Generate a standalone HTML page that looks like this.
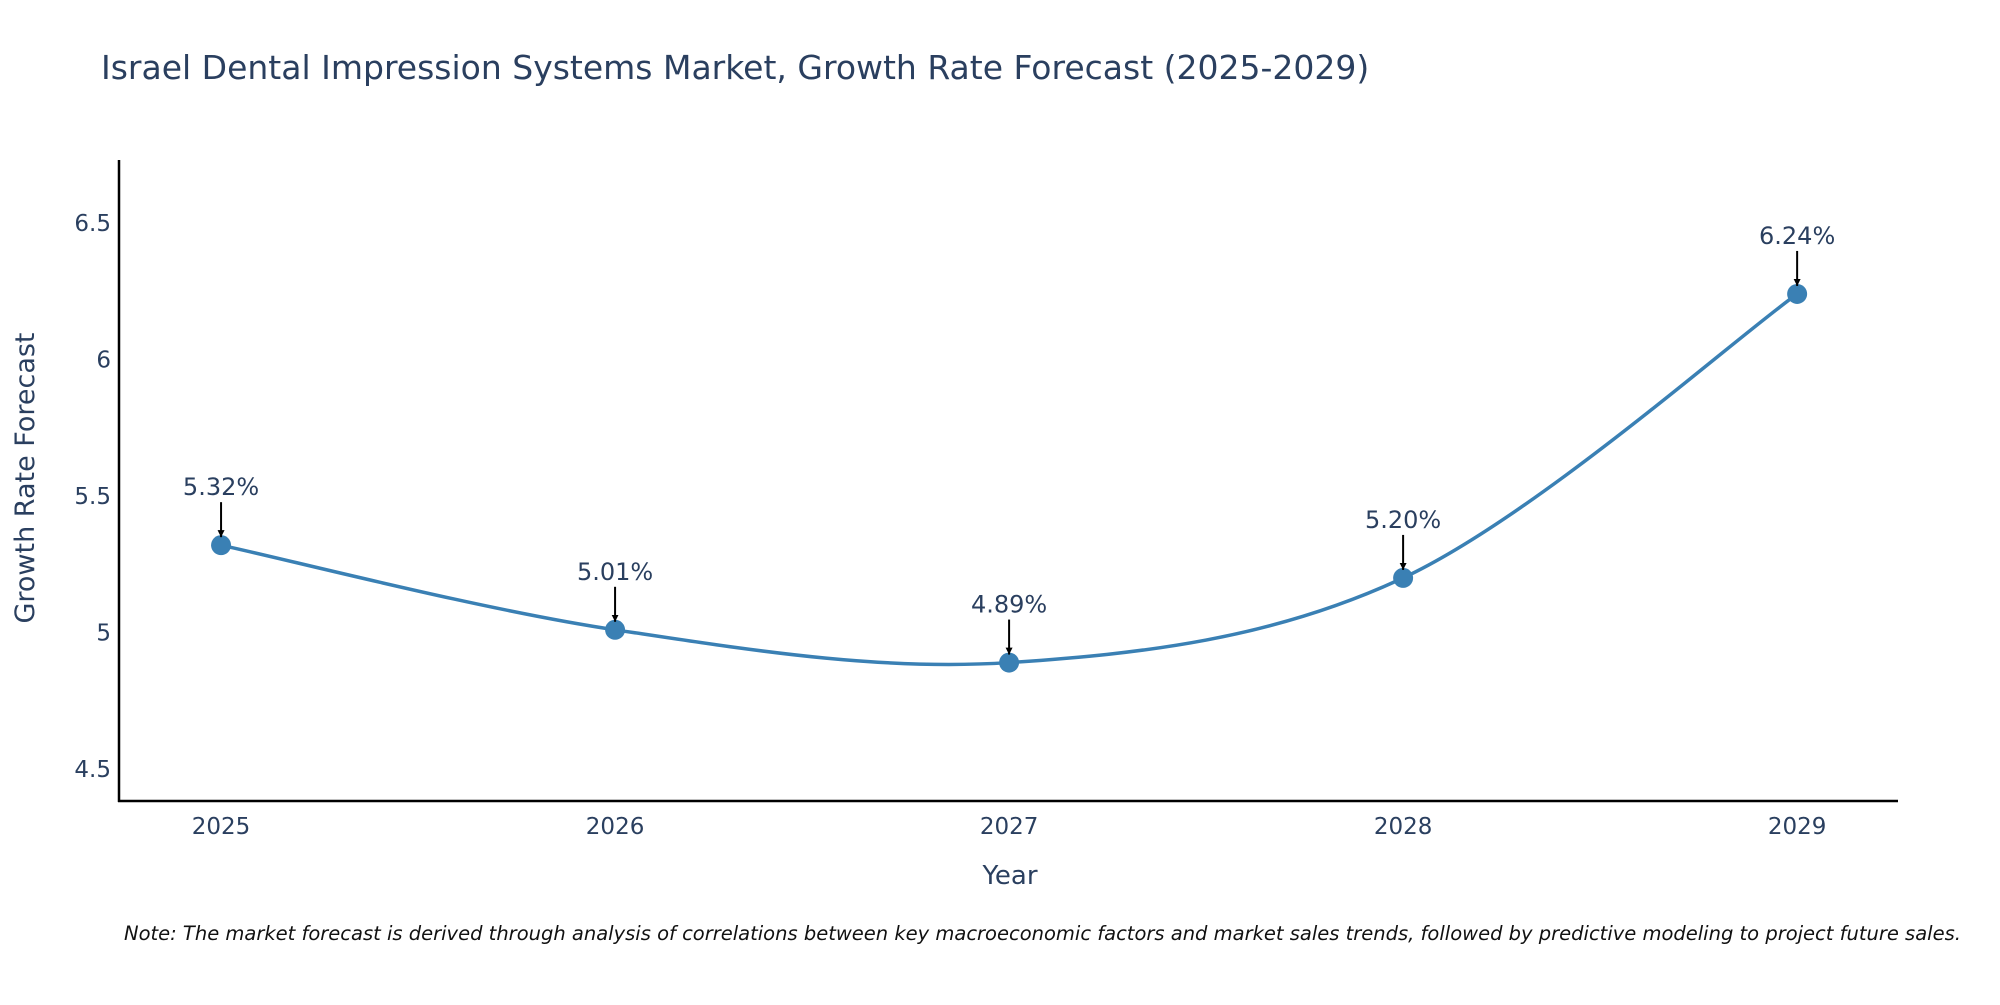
<!DOCTYPE html>
<html><head><meta charset="utf-8"><style>
body{margin:0;background:#fff;}
svg text{font-family:"DejaVu Sans","Liberation Sans",sans-serif;}
</style></head><body>
<svg id="chart" width="2000" height="1000" xmlns="http://www.w3.org/2000/svg">
<defs><marker id="ah" viewBox="0 0 10 10" refX="10" refY="5" markerWidth="7" markerHeight="7" orient="auto" markerUnits="userSpaceOnUse"><path d="M0,0 L10,5 L0,10 z" fill="#000"/></marker></defs>
<text x="101" y="79" font-size="33" fill="#2a3f5f">Israel Dental Impression Systems Market, Growth Rate Forecast (2025-2029)</text>
<g id="yticks"></g>
<g id="xticks"></g>
<line x1="119" y1="160" x2="119" y2="802" stroke="#000" stroke-width="2.5"/>
<line x1="118" y1="801" x2="1898" y2="801" stroke="#000" stroke-width="2.5"/>
<path id="line" fill="none" stroke="#3a80b4" stroke-width="3.5"/>
<g id="points"></g>
<g id="annots"></g>
<text transform="translate(34,478) rotate(-90)" text-anchor="middle" font-size="27" fill="#2a3f5f">Growth Rate Forecast</text>
<text x="1010" y="884" text-anchor="middle" font-size="26" fill="#2a3f5f">Year</text>
<text x="124" y="940" font-size="19.5" font-style="italic" fill="#111">Note: The market forecast is derived through analysis of correlations between key macroeconomic factors and market sales trends, followed by predictive modeling to project future sales.</text>
</svg>
<script>
const years = [2025, 2026, 2027, 2028, 2029];
const values = [5.32, 5.01, 4.89, 5.20, 6.24];
const labels = ["5.32%", "5.01%", "4.89%", "5.20%", "6.24%"];
const yTickVals = [4.5, 5, 5.5, 6, 6.5];
const yTickLabels = ["4.5", "5", "5.5", "6", "6.5"];
const NS = "http://www.w3.org/2000/svg";
const X0 = 2024.741, X1 = 2029.256, PX0 = 119, PX1 = 1898;
const Y0 = 4.383, Y1 = 6.728, PY0 = 801, PY1 = 160.7;
const xs = v => PX0 + (v - X0) / (X1 - X0) * (PX1 - PX0);
const ys = v => PY0 + (v - Y0) / (Y1 - Y0) * (PY1 - PY0);
function mk(tag, attrs, parent, txt){const e=document.createElementNS(NS,tag);for(const k in attrs)e.setAttribute(k,attrs[k]);if(txt!==undefined)e.textContent=txt;parent.appendChild(e);return e;}
const yt = document.getElementById('yticks');
yTickVals.forEach((v,i)=>{
  const t = mk('text',{x:111,y:ys(v)+8,'text-anchor':'end','font-size':23,fill:'#2a3f5f'},yt,yTickLabels[i]);
  
  
});
const xt = document.getElementById('xticks');
years.forEach(y=>{
  const t = mk('text',{x:xs(y),y:834,'text-anchor':'middle','font-size':23,fill:'#2a3f5f'},xt,String(y));
  
  
});
const P = years.map((y,i)=>[xs(y),ys(values[i])]);
let d = `M${P[0][0]},${P[0][1]}`;
for(let i=0;i<P.length-1;i++){
  const p0=P[Math.max(i-1,0)],p1=P[i],p2=P[i+1],p3=P[Math.min(i+2,P.length-1)];
  const k=1/6;
  d+=` C${p1[0]+(p2[0]-p0[0])*k},${p1[1]+(p2[1]-p0[1])*k} ${p2[0]-(p3[0]-p1[0])*k},${p2[1]-(p3[1]-p1[1])*k} ${p2[0]},${p2[1]}`;
}
document.getElementById('line').setAttribute('d',d);
const pts = document.getElementById('points'), an = document.getElementById('annots');
P.forEach((p,i)=>{
  const c = mk('circle',{cx:p[0],cy:p[1],r:10,fill:'#3a80b4'},pts);
  
  
  const a = mk('line',{x1:p[0],y1:p[1]-43,x2:p[0],y2:p[1]-8,stroke:'#000','stroke-width':2,'marker-end':'url(#ah)'},an);
  
  
  const t = mk('text',{x:p[0],y:p[1]-50,'text-anchor':'middle','font-size':24,fill:'#2a3f5f'},an,labels[i]);
  
  
});
</script>
</body></html>
